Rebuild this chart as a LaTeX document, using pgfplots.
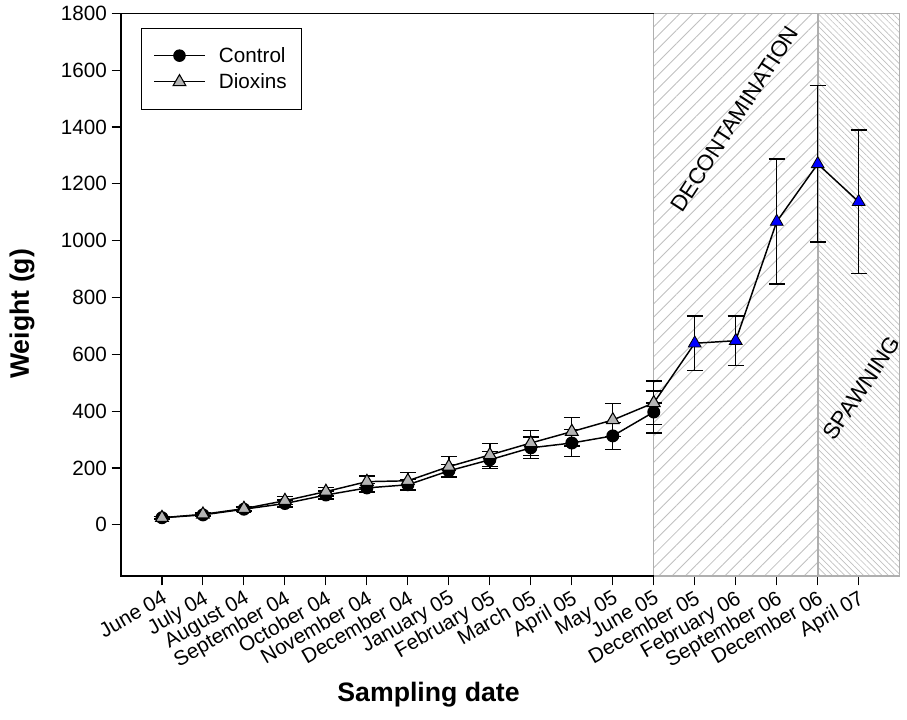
\documentclass[border=0pt]{standalone}
\usepackage{fontspec}
\setmainfont{Liberation Sans}
\usepackage{pgfplots}
\pgfplotsset{compat=1.18}
\usetikzlibrary{patterns.meta}

\definecolor{dioxgray}{RGB}{180,180,180}
\definecolor{hatchgray}{RGB}{192,192,192}
\definecolor{bordergray}{RGB}{175,175,175}

% Control and Dioxins series, x = sampling index
\pgfplotstableread{
x y err
0 25 5
1 35 6
2 55 8
3 75 12
4 105 14
5 130 15
6 141 18
7 190 22
8 229 30
9 271 38
10 288 48
11 313 47
12 397 74
}\control

\pgfplotstableread{
x y err
0 25 5
1 37 6
2 57 8
3 85 14
4 117 15
5 152 20
6 155 30
7 205 35
8 246 40
9 288 45
10 328 50
11 369 58
12 429 77
}\dioxins

% after June 05, single series (blue triangles)
\pgfplotstableread{
x y err
12 429 0
13 639 96
14 648 87
15 1067 220
16 1270 275
17 1137 253
}\later

\begin{document}
\begin{tikzpicture}
\begin{axis}[
  scale only axis,
  width=584pt, height=422pt,
  xmin=-1, xmax=18,
  ymin=-180, ymax=1800,
  clip=false,
  axis line style={draw=none},
  xtick={0,...,17},
  xticklabels={June 04, July 04, August 04, September 04, October 04,
    November 04, December 04, January 05, February 05, March 05, April 05,
    May 05, June 05, December 05, February 06, September 06, December 06,
    April 07},
  ytick={0,200,...,1800},
  xtick pos=bottom, ytick pos=left,
  tick align=outside,
  major tick length=7pt,
  tick style={black, line width=0.8pt},
  /pgf/number format/assume math mode=true,
  yticklabel style={/pgf/number format/1000 sep={}},
  tick label style={font=\fontsize{15.5}{18}\selectfont},
  xticklabel style={rotate=30, anchor=north east, inner sep=2pt},
  xlabel={\textbf{Sampling date}},
  ylabel={\textbf{Weight (g)}},
  label style={font=\fontsize{20}{24}\selectfont},
  xlabel style={at={(axis description cs:0.395,-0.2115)}, anchor=center},
  ylabel style={at={(axis description cs:-0.127,0.466)}, anchor=center},
  legend style={
    at={(axis description cs:0.0257,0.974)}, anchor=north west,
    draw=black, line width=0.8pt,
    font=\fontsize{15.5}{18}\selectfont,
    inner xsep=9pt, inner ysep=12pt,
    row sep=3pt,
    nodes={inner sep=2pt, right},
  },
  legend cell align=left,
  legend image code/.code={
    \draw[mark repeat=2, mark phase=2, line width=0.8pt]
      plot coordinates {(0cm,0cm) (0.67cm,0cm) (1.34cm,0cm)};
    \path (1.34cm+8pt,0cm);
  },
]

% Decontamination and spawning periods
\addplot[forget plot, draw=none,
  pattern={Lines[angle=45, distance=7pt, line width=0.65pt]},
  pattern color=hatchgray]
  coordinates {(12,-180) (12,1800) (16,1800) (16,-180)} -- cycle;
\addplot[forget plot, draw=none,
  pattern={Lines[angle=-45, distance=3.3pt, line width=0.5pt]},
  pattern color=hatchgray]
  coordinates {(16,-180) (16,1800) (18,1800) (18,-180)} -- cycle;
\addplot[forget plot, draw=bordergray, line width=1pt]
  coordinates {(12,-180) (12,1800) (18,1800) (18,-180) (12,-180)};
\addplot[forget plot, draw=bordergray, line width=1.2pt]
  coordinates {(16,-180) (16,1800)};

% black frame on the left part
\addplot[forget plot, black, line width=1pt]
  coordinates {(12,1800) (-1,1800) (-1,-180) (12,-180)};

\node[rotate=57, font=\fontsize{16.8}{20}\selectfont]
  at (axis cs:13.97,1428) {DECONTAMINATION};
\node[rotate=56, font=\fontsize{16.8}{20}\selectfont]
  at (axis cs:17.07,482) {SPAWNING};

% data
\addplot[black, line width=1.1pt, mark=*, mark size=4.3pt,
  mark options={fill=black, draw=black},
  error bars/.cd, y dir=both, y explicit,
  error bar style={line width=1pt, black},
  error mark options={rotate=90, mark size=6pt, line width=1pt, black}]
  table[x=x, y=y, y error=err] {\control};
\addlegendentry{Control}

\addplot[black, line width=1.1pt, mark=triangle*, mark size=5.5pt,
  mark options={fill=dioxgray, draw=black, line width=0.8pt},
  error bars/.cd, y dir=both, y explicit,
  error bar style={line width=1pt, black},
  error mark options={rotate=90, mark size=6pt, line width=1pt, black}]
  table[x=x, y=y, y error=err] {\dioxins};
\addlegendentry{Dioxins}

\addplot[forget plot, black, line width=1.1pt, mark=triangle*, mark size=5.5pt,
  mark indices={2,3,4,5,6},
  mark options={fill=blue, draw=black, line width=0.6pt},
  error bars/.cd, y dir=both, y explicit,
  error bar style={line width=1pt, black},
  error mark options={rotate=90, mark size=6pt, line width=1pt, black}]
  table[x=x, y=y, y error=err] {\later};

\end{axis}
\pgfresetboundingbox
\path[use as bounding box] (-90.75pt,-108pt) rectangle (589.5pt,432pt);
\end{tikzpicture}
\end{document}
